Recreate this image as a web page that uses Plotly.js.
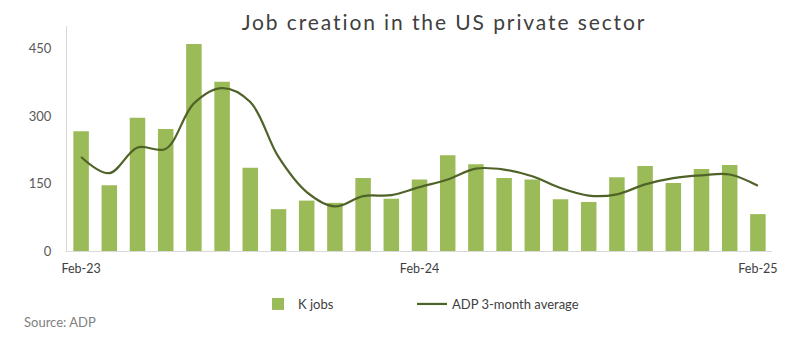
<!DOCTYPE html>
<html>
<head>
<meta charset="utf-8">
<script src="https://cdn.plot.ly/plotly-3.0.1.min.js"></script>
<style>
  html, body { margin: 0; padding: 0; background: #fff; }
  #chart { width: 787px; height: 342px; }
  .gtitle { letter-spacing: 1.9px; }
</style>
</head>
<body>
<div id="chart"></div>
<script>
const months = ["Feb-23","Mar-23","Apr-23","May-23","Jun-23","Jul-23","Aug-23","Sep-23","Oct-23","Nov-23","Dec-23","Jan-24",
                "Feb-24","Mar-24","Apr-24","May-24","Jun-24","Jul-24","Aug-24","Sep-24","Oct-24","Nov-24","Dec-24","Jan-25","Feb-25"];
const kJobs = [266,146,296,271,460,376,185,93,112,107,162,116,159,213,193,162,159,115,109,164,189,151,182,191,82];
const adpAvg = [209,173,230,227,328,362,331,209,131,99,122,124,142,159,183,181,166,140,123,126,148,162,168,170,145];
const xTickLabels = ["Feb-23","Feb-24","Feb-25"];
const yTicks = [0,150,300,450];

const barColor = "#9BBB59";
const lineColor = "#4F6228";

const traces = [
  {
    type: "bar", name: "K jobs", x: months, y: kJobs,
    marker: { color: barColor }, legend: "legend"
  },
  {
    type: "scatter", mode: "lines", name: "ADP 3-month average", x: months, y: adpAvg,
    line: { color: lineColor, width: 2.2, shape: "spline", smoothing: 1 }, legend: "legend2"
  }
];

const legendBase = {
  orientation: "h",
  xref: "container", yref: "container",
  xanchor: "left", y: 1 - 289 / 342, yanchor: "top",
  font: { size: 13, color: "#404040" },
  bgcolor: "rgba(0,0,0,0)"
};

const layout = {
  width: 787, height: 342,
  margin: { l: 67, r: 15, t: 26, b: 91 },
  paper_bgcolor: "#ffffff", plot_bgcolor: "#ffffff",
  font: { family: "Lato, 'Open Sans', sans-serif", color: "#595959", size: 13 },
  title: {
    text: "Job creation in the US private sector",
    font: { family: "Lato, 'Open Sans', sans-serif", size: 21, color: "#404040" },
    xref: "container", x: 444 / 787, xanchor: "center",
    yref: "container", y: 1 - 23 / 342, yanchor: "middle"
  },
  bargap: 0.45,
  xaxis: {
    type: "category",
    tickmode: "array", tickvals: xTickLabels, ticktext: xTickLabels,
    showgrid: false, zeroline: false,
    showline: true, linecolor: "#d9d9d9", linewidth: 1,
    ticks: "", ticklabelstandoff: 6,
    tickfont: { size: 12.5, color: "#404040" }
  },
  yaxis: {
    range: [0, 500], tickmode: "array", tickvals: yTicks,
    showgrid: false, zeroline: false,
    showline: true, linecolor: "#d9d9d9", linewidth: 1,
    ticks: "", ticklabelstandoff: 12,
    tickfont: { size: 13, color: "#595959" }
  },
  showlegend: true,
  legend: Object.assign({}, legendBase, { x: 258 / 787 }),
  legend2: Object.assign({}, legendBase, { x: 412 / 787 }),
  annotations: [
    {
      text: "Source: ADP", showarrow: false,
      xref: "paper", yref: "paper",
      x: (22 - 67) / 705, xanchor: "left",
      y: (251 - 322) / 225, yanchor: "middle",
      font: { size: 13, color: "#808080" }
    }
  ]
};

Plotly.newPlot("chart", traces, layout, { displayModeBar: false, staticPlot: true });
</script>
</body>
</html>
